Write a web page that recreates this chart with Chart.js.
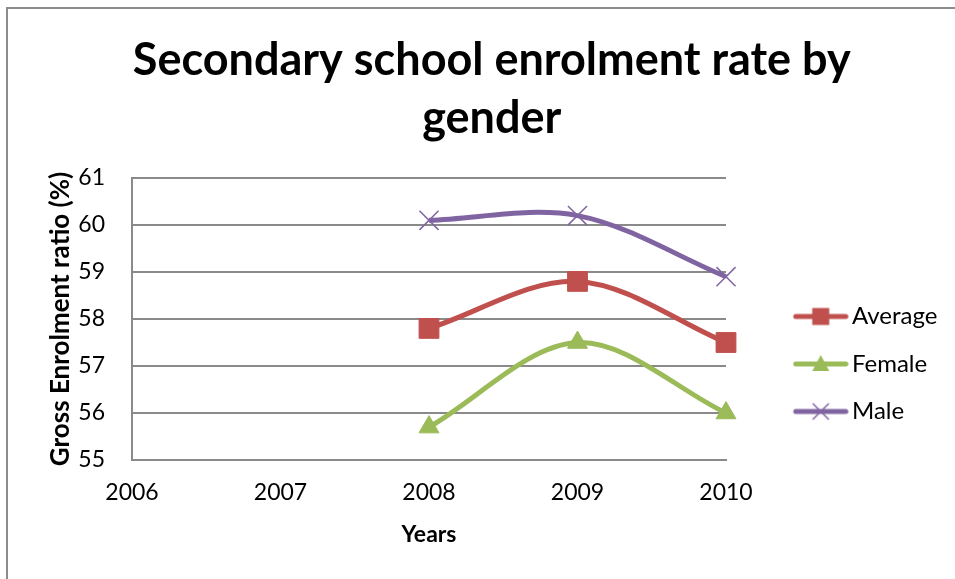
<!DOCTYPE html>
<html>
<head>
<meta charset="utf-8">
<script src="https://cdn.jsdelivr.net/npm/chart.js@4.4.1/dist/chart.umd.min.js"></script>
<style>
  html, body { margin: 0; padding: 0; background: #ffffff; }
  #wrap { position: relative; width: 955px; height: 579px; overflow: hidden; }
  #frame { position: absolute; left: 6px; top: 7px; width: 1000px; height: 1000px;
           border-left: 2px solid #8c8c8c; border-top: 2px solid #8c8c8c; }
  #chart { position: absolute; left: 0; top: 0; }
</style>
</head>
<body>
<div id="wrap">
  <div id="frame"></div>
  <canvas id="chart" width="955" height="579"></canvas>
</div>
<script>
// Enrolment data (gross enrolment ratio, %)
const years = ['2006', '2007', '2008', '2009', '2010'];
const averageRate = [null, null, 57.8, 58.8, 57.5];
const femaleRate  = [null, null, 55.7, 57.5, 56.0];
const maleRate    = [null, null, 60.1, 60.2, 58.9];
const yTicks = [55, 56, 57, 58, 59, 60, 61];

const titleLines = ['Secondary school enrolment rate by', 'gender'];
const xTitle = 'Years';
const yTitle = 'Gross Enrolment ratio (%)';

const COLORS = { average: '#C0504D', female: '#9BBB59', male: '#8064A2' };
const GRID = '#8a8a8a';
const FONT = 'Lato';

Chart.defaults.font.family = FONT;
Chart.defaults.color = '#000000';

// Legend sample: a short thick line with the series marker in the middle
function legendIcon(color, style) {
  const c = document.createElement('canvas');
  c.width = 108; c.height = 24;
  const g = c.getContext('2d');
  g.strokeStyle = color; g.fillStyle = color;
  g.lineWidth = 5; g.lineCap = 'round';
  g.beginPath(); g.moveTo(55, 12); g.lineTo(105, 12); g.stroke();
  const cx = 80, cy = 12;
  if (style === 'rect') {
    g.fillRect(cx - 8.5, cy - 8.5, 17, 17);
  } else if (style === 'triangle') {
    g.beginPath(); g.moveTo(cx, cy - 9); g.lineTo(cx + 8.5, cy + 7); g.lineTo(cx - 8.5, cy + 7); g.closePath(); g.fill();
  } else {
    g.lineWidth = 1.5; g.lineCap = 'butt';
    g.beginPath();
    g.moveTo(cx - 8, cy - 8); g.lineTo(cx + 8, cy + 8);
    g.moveTo(cx + 8, cy - 8); g.lineTo(cx - 8, cy + 8);
    g.stroke();
  }
  return c;
}
const icons = [
  legendIcon(COLORS.average, 'rect'),
  legendIcon(COLORS.female, 'triangle'),
  legendIcon(COLORS.male, 'crossRot')
];

// Right padding so the plot ends where the legend column starts
const LEGEND_FONT = 24, LEGEND_PAD = 23.5, LEGEND_BOX = 90.5;
const mctx = document.createElement('canvas').getContext('2d');
mctx.font = LEGEND_FONT + 'px ' + FONT;
const widest = Math.max(...['Average', 'Female', 'Male'].map(t => mctx.measureText(t).width));
const legendWidth = LEGEND_PAD + LEGEND_BOX + LEGEND_FONT / 2 + widest + 10;
const padRight = Math.max(0, 955 - 726 - legendWidth);

// The legend column sits in the space below the chart title
const legendBelowTitle = {
  id: 'legendBelowTitle',
  afterLayout(chart) {
    const legend = chart.legend, title = chart.titleBlock;
    if (legend && title) {
      legend.top = title.bottom;
      legend.height = legend.bottom - legend.top;
    }
  }
};

function series(label, data, color, style, radius, borderWidth) {
  return {
    label, data,
    borderColor: color, backgroundColor: color,
    borderWidth: 5,
    tension: 0.33,
    pointStyle: style,
    pointRadius: radius,
    pointHoverRadius: radius,
    pointBackgroundColor: color,
    pointBorderColor: color,
    pointBorderWidth: borderWidth,
    clip: false
  };
}

new Chart(document.getElementById('chart'), {
  type: 'line',
  data: {
    labels: years,
    datasets: [
      series('Average', averageRate, COLORS.average, 'rect', 14, 1),
      series('Female', femaleRate, COLORS.female, 'triangle', 11.5, 1),
      series('Male', maleRate, COLORS.male, 'crossRot', 13.5, 1.5)
    ]
  },
  plugins: [legendBelowTitle],
  options: {
    responsive: false,
    animation: false,
    devicePixelRatio: 1,
    layout: { padding: { left: 36, right: padRight, top: 0, bottom: 29 } },
    plugins: {
      title: {
        display: true,
        text: titleLines,
        color: '#000000',
        font: { family: FONT, size: 45, weight: 'bold', lineHeight: 58 / 45 },
        padding: { top: 31, bottom: 31 }
      },
      legend: {
        position: 'right',
        labels: {
          usePointStyle: true,
          pointStyleWidth: LEGEND_BOX,
          boxHeight: LEGEND_FONT,
          padding: LEGEND_PAD,
          color: '#000000',
          font: { family: FONT, size: LEGEND_FONT },
          generateLabels(chart) {
            const items = Chart.defaults.plugins.legend.labels.generateLabels(chart);
            items.forEach((it, i) => { it.pointStyle = icons[i]; });
            return items;
          }
        }
      },
      tooltip: { enabled: false }
    },
    scales: {
      x: {
        offset: false,
        grid: { display: false, drawTicks: false },
        border: { display: true, color: GRID, width: 2 },
        ticks: { padding: 19, font: { family: FONT, size: 23 }, color: '#000000' },
        title: {
          display: true, text: xTitle, color: '#000000',
          font: { family: FONT, size: 23, weight: 'bold', lineHeight: 1.2 },
          padding: { top: 0, bottom: 2 }
        },
        afterFit(scale) { scale.height = 90; }
      },
      y: {
        min: yTicks[0],
        max: yTicks[yTicks.length - 1],
        grid: { color: GRID, lineWidth: 2, drawTicks: false },
        border: { display: true, color: GRID, width: 2 },
        ticks: { stepSize: 1, padding: 27, font: { family: FONT, size: 23 }, color: '#000000' },
        title: {
          display: true, text: yTitle, color: '#000000',
          font: { family: FONT, size: 26, weight: 'bold', lineHeight: 1.2 },
          padding: { top: 9, bottom: 0 }
        },
        afterFit(scale) { scale.width = 96; }
      }
    }
  }
});
</script>
</body>
</html>
